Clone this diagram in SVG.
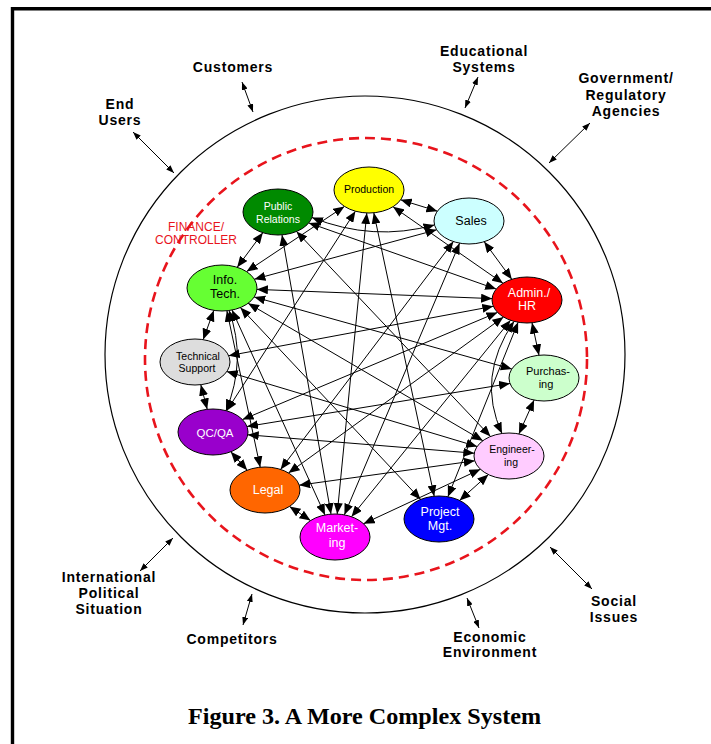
<svg xmlns="http://www.w3.org/2000/svg" width="711" height="744" viewBox="0 0 711 744">
  <style>
    .frame { fill: none; stroke: #000; stroke-width: 3.4; }
    .ring { fill: none; stroke: #000; stroke-width: 1.2; }
    .finance { fill: none; stroke: #e8141c; stroke-width: 2.6; stroke-dasharray: 10 6; }
    .link { fill: none; stroke: #000; stroke-width: 1; marker-start: url(#ah); marker-end: url(#ah); }
    .env { fill: none; stroke: #000; stroke-width: 1; marker-start: url(#sh); marker-end: url(#sh); }
    .node ellipse { stroke: #000; stroke-width: 1; }
    .node text { font-family: "Liberation Sans", Arial, sans-serif; text-anchor: middle; }
    .dark text { fill: #fff; }
    .light text { fill: #000; }
    .label { font-family: "Liberation Sans", Arial, sans-serif; font-weight: bold; font-size: 14px; letter-spacing: 0.8px; text-anchor: middle; fill: #000; }
    .fin { font-family: "Liberation Sans", Arial, sans-serif; font-size: 12px; text-anchor: middle; fill: #e8141c; }
    .caption { font-family: "Liberation Serif", "Times New Roman", serif; font-weight: bold; font-size: 23.5px; text-anchor: middle; fill: #000; }
  </style>
  <defs>
    <marker id="ah" viewBox="0 0 11 9" refX="11" refY="4.5" markerWidth="11" markerHeight="9" markerUnits="userSpaceOnUse" orient="auto-start-reverse">
      <path d="M0,0 L11,4.5 L0,9 z" fill="#000"/>
    </marker>
    <marker id="sh" viewBox="0 0 8 6" refX="8" refY="3" markerWidth="8" markerHeight="6" markerUnits="userSpaceOnUse" orient="auto-start-reverse">
      <path d="M0,0 L8,3 L0,6 z" fill="#000"/>
    </marker>
  </defs>

  <rect width="711" height="744" fill="#fff"/>
  <path class="frame" d="M12.5,744 V8.7 H711"/>

  <!-- environment boundary and finance boundary -->
  <ellipse class="ring" cx="365" cy="354.5" rx="260" ry="258.5"/>
  <circle class="finance" cx="366" cy="359" r="221"/>
  <text class="fin" x="196" y="231">FINANCE/</text>
  <text class="fin" x="196" y="244">CONTROLLER</text>

  <!-- external influences -->
  <g id="env-links">
    <path class="env" d="M133,132 L174,173"/>
    <path class="env" d="M242,82 L253,112"/>
    <path class="env" d="M478,77 L465,108"/>
    <path class="env" d="M590,123 L549,163"/>
    <path class="env" d="M173,538 L140,571"/>
    <path class="env" d="M252,594 L243,625"/>
    <path class="env" d="M467,598 L479,628"/>
    <path class="env" d="M550,547 L592,589"/>
  </g>
  <g id="end-users"><text class="label" x="120" y="109">End</text><text class="label" x="120" y="125">Users</text></g>
  <g id="customers"><text class="label" x="233" y="72">Customers</text></g>
  <g id="educational"><text class="label" x="484" y="56">Educational</text><text class="label" x="484" y="72">Systems</text></g>
  <g id="government"><text class="label" x="626" y="83">Government/</text><text class="label" x="626" y="100">Regulatory</text><text class="label" x="626" y="116">Agencies</text></g>
  <g id="international"><text class="label" x="109" y="582">International</text><text class="label" x="109" y="598">Political</text><text class="label" x="109" y="614">Situation</text></g>
  <g id="competitors"><text class="label" x="232" y="644">Competitors</text></g>
  <g id="economic"><text class="label" x="490" y="642">Economic</text><text class="label" x="490" y="657">Environment</text></g>
  <g id="social"><text class="label" x="614" y="606">Social</text><text class="label" x="614" y="622">Issues</text></g>

  <!-- internal connectors -->
  <g id="connectors">
    <path class="link" d="M237.2,267.3 L262.8,232.7"/>
    <path class="link" d="M400.6,199.8 L437.4,211.2"/>
    <path class="link" d="M484.2,241.7 L511.8,279.3"/>
    <path class="link" d="M532,322.8 L539,355.2"/>
    <path class="link" d="M534.1,400.1 L518.9,433.9"/>
    <path class="link" d="M488.4,474.6 L459.6,500.4"/>
    <path class="link" d="M310.5,520.6 L289.5,506.4"/>
    <path class="link" d="M247.2,470.2 L230.8,451.8"/>
    <path class="link" d="M207.2,409.3 L200.8,384.7"/>
    <path class="link" d="M203.2,339.6 L213.8,310.4"/>
    <path class="link" d="M246.6,271.6 L344.4,206.4"/>
    <path class="link" d="M254.4,279.2 L436.6,229.8"/>
    <path class="link" d="M256.9,289.4 L492.1,298.6"/>
    <path class="link" d="M254.2,297 L511.8,369"/>
    <path class="link" d="M248.1,303.3 L482.9,440.7"/>
    <path class="link" d="M226.9,310.8 L260.2,467.2"/>
    <path class="link" d="M232,310 L325,515"/>
    <path class="link" d="M240.4,307.6 L420.6,499.4"/>
    <path class="link" d="M229,310.5 Q247,360 226,410.6"/>
    <path class="link" d="M312,217.5 Q373,242 434.5,224.9"/>
    <path class="link" d="M308.8,222.9 L496.2,289.1"/>
    <path class="link" d="M282,234.9 L331,514.1"/>
    <path class="link" d="M296.5,231.5 L490.5,436.5"/>
    <path class="link" d="M355.4,211.2 L226.7,410.8"/>
    <path class="link" d="M373.8,212.8 L434.2,496.2"/>
    <path class="link" d="M366.8,213 L337.2,514"/>
    <path class="link" d="M393,206.7 L503,283.3"/>
    <path class="link" d="M453.4,241.6 L280.6,469.4"/>
    <path class="link" d="M459.6,243.2 L344.4,514.8"/>
    <path class="link" d="M493.3,306.3 L228.7,355.7"/>
    <path class="link" d="M497.5,312.4 L242.5,419.6"/>
    <path class="link" d="M503.5,317 L288.5,473"/>
    <path class="link" d="M510.5,320.3 L351.5,516.7"/>
    <path class="link" d="M518.1,322.2 L447.9,496.8"/>
    <path class="link" d="M514,321.4 Q476,377 502,433.5"/>
    <path class="link" d="M510,383.5 L247,426.5"/>
    <path class="link" d="M477.1,446.5 L226.8,371.5"/>
    <path class="link" d="M474.3,453.2 L247.7,434.8"/>
    <path class="link" d="M474.8,460.8 L299.2,485.2"/>
    <path class="link" d="M480.4,469.3 L363.6,523.7"/>
  </g>

  <!-- departments -->
  <g id="public-relations" class="node dark"><ellipse cx="278" cy="212" rx="35" ry="23" fill="#008a00"/><text x="278" y="210" font-size="10.5">Public</text><text x="278" y="223" font-size="10.5">Relations</text></g>
  <g id="production" class="node light"><ellipse cx="369" cy="190" rx="35" ry="23" fill="#ffff00"/><text x="369" y="193" font-size="10.5">Production</text></g>
  <g id="sales" class="node light"><ellipse cx="469" cy="221" rx="35" ry="23" fill="#ccffff"/><text x="471" y="225" font-size="12.5">Sales</text></g>
  <g id="admin-hr" class="node dark"><ellipse cx="527" cy="300" rx="35" ry="23" fill="#ff0000"/><text x="529" y="297" font-size="12.5">Admin./</text><text x="527" y="310" font-size="12.5">HR</text></g>
  <g id="purchasing" class="node light"><ellipse cx="544" cy="378" rx="35" ry="23" fill="#ccffcc"/><text x="548" y="375" font-size="11">Purchas-</text><text x="546" y="388" font-size="11">ing</text></g>
  <g id="engineering" class="node light"><ellipse cx="509" cy="456" rx="35" ry="23" fill="#ffccff"/><text x="512" y="453" font-size="10.5">Engineer-</text><text x="511" y="466" font-size="10.5">ing</text></g>
  <g id="project-mgt" class="node dark"><ellipse cx="439" cy="519" rx="35" ry="23" fill="#0000ff"/><text x="440" y="516" font-size="12.5">Project</text><text x="440" y="530" font-size="12.5">Mgt.</text></g>
  <g id="marketing" class="node dark"><ellipse cx="335" cy="537" rx="35" ry="23" fill="#ff00ff"/><text x="337" y="532" font-size="12.5">Market-</text><text x="337" y="547" font-size="12.5">ing</text></g>
  <g id="legal" class="node dark"><ellipse cx="265" cy="490" rx="35" ry="23" fill="#ff6600"/><text x="268" y="494" font-size="12.5">Legal</text></g>
  <g id="qc-qa" class="node dark"><ellipse cx="213" cy="432" rx="35" ry="23" fill="#9900cc"/><text x="215" y="437" font-size="11.5">QC/QA</text></g>
  <g id="technical-support" class="node light"><ellipse cx="195" cy="362" rx="35" ry="23" fill="#dddddd"/><text x="198" y="360" font-size="10.5">Technical</text><text x="197" y="372" font-size="10.5">Support</text></g>
  <g id="info-tech" class="node light"><ellipse cx="222" cy="288" rx="35" ry="23" fill="#66ff33"/><text x="225" y="284" font-size="12.5">Info.</text><text x="225" y="298" font-size="12.5">Tech.</text></g>

  <text class="caption" x="364.5" y="724" textLength="353" lengthAdjust="spacingAndGlyphs">Figure 3. A More Complex System</text>
</svg>
